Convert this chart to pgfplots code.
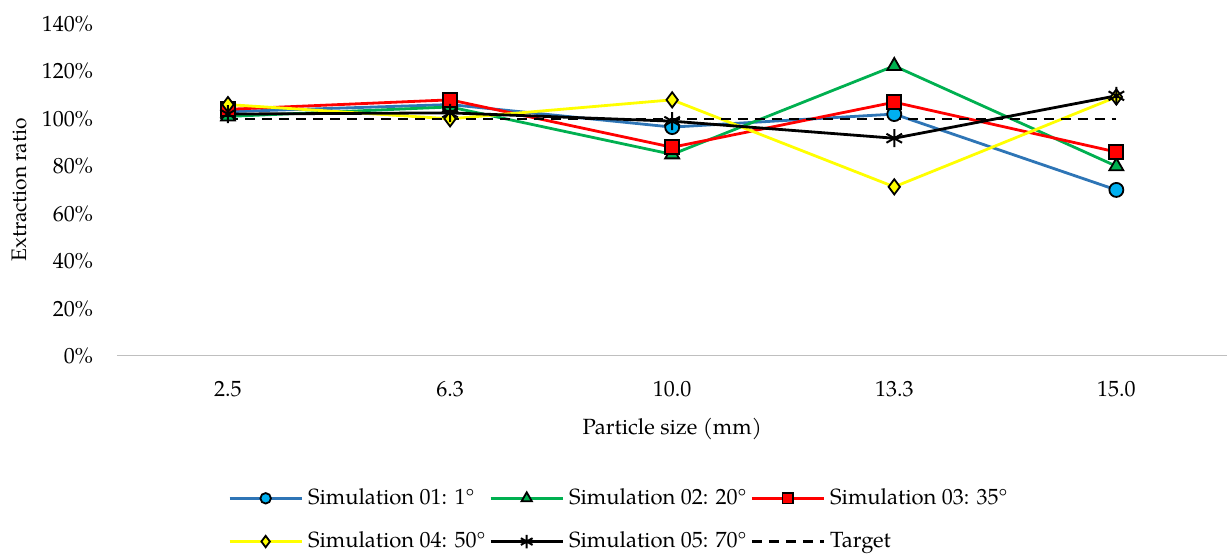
\documentclass[border=0pt]{standalone}
\usepackage{fontspec}
\setmainfont{TeX Gyre Pagella}
\usepackage{pgfplots}
\pgfplotsset{compat=1.18}
\definecolor{cblue}{RGB}{46,117,182}
\definecolor{cblueF}{RGB}{0,176,240}
\definecolor{cgreen}{RGB}{0,176,80}
\definecolor{cred}{RGB}{255,0,0}
\definecolor{cyellow}{RGB}{255,255,0}
\begin{document}
\fontsize{11}{13}\selectfont
\begin{tikzpicture}
\begin{axis}[
  name=ax,
  scale only axis,
  width=555.5pt, height=166pt,
  xmin=-0.5, xmax=4.5,
  ymin=0, ymax=1.4,
  xtick={0,1,2,3,4},
  xticklabels={2.5,6.3,10.0,13.3,15.0},
  ytick={0,0.2,0.4,0.6,0.8,1.0,1.2,1.4},
  yticklabels={0\%,20\%,40\%,60\%,80\%,100\%,120\%,140\%},
  axis x line*=bottom, axis y line*=left,
  y axis line style={draw=none},
  x axis line style={draw=black!25, line width=0.6pt},
  major tick length=0pt,
  tick label style={font=\fontsize{11}{13}\selectfont},
  yticklabel style={xshift=-8pt},
  xticklabel style={yshift=-9pt},
  xlabel={Particle size (mm)},
  ylabel={Extraction ratio},
  xlabel style={font=\fontsize{11}{13}\selectfont, yshift=-3pt},
  ylabel style={font=\fontsize{10.5}{12}\selectfont, yshift=0pt},
  clip=false,
  legend columns=3,
  legend cell align=left,
  legend style={draw=none, at={(0.0945,-0.375)}, anchor=north west,
     font=\fontsize{11}{13}\selectfont, row sep=8pt,
     /tikz/every even column/.append style={column sep=0pt},
     /tikz/every odd column/.append style={column sep=0.5pt}},
  legend image code/.code={\draw[mark repeat=2,mark phase=2,every mark/.append style={scale=0.75}]
     plot coordinates {(0pt,0pt)(18pt,0pt)(36pt,0pt)};},
]
\addplot[color=cblue, line width=1.4pt, mark=*, mark size=3.5pt, mark options={fill=cblueF, draw=black, line width=0.9pt}]
  coordinates {(0,1.03)(1,1.06)(2,0.965)(3,1.02)(4,0.70)};
\addlegendentry{Simulation 01: 1°}
\addplot[color=cgreen, line width=1.4pt, mark=triangle*, mark size=4pt, mark options={fill=cgreen, draw=black, line width=0.9pt}]
  coordinates {(0,1.01)(1,1.05)(2,0.85)(3,1.223)(4,0.80)};
\addlegendentry{Simulation 02: 20°}
\addplot[color=cred, line width=1.4pt, mark=square*, mark size=3.5pt, mark options={fill=cred, draw=black, line width=0.9pt}]
  coordinates {(0,1.04)(1,1.08)(2,0.88)(3,1.07)(4,0.86)};
\addlegendentry{Simulation 03: 35°}
\addplot[color=cyellow, line width=1.4pt, mark=diamond*, mark size=3.8pt, mark options={fill=cyellow, draw=black, line width=0.9pt}]
  coordinates {(0,1.06)(1,1.00)(2,1.08)(3,0.713)(4,1.092)};
\addlegendentry{Simulation 04: 50°}
\addplot[color=black, line width=1.4pt, mark=asterisk, mark size=4.5pt, mark options={draw=black, line width=1pt}]
  coordinates {(0,1.02)(1,1.025)(2,0.99)(3,0.918)(4,1.097)};
\addlegendentry{Simulation 05: 70°}
\addplot[color=black, dash pattern=on 5pt off 3.5pt, line width=1.3pt]
  coordinates {(0,1.0)(1,1.0)(2,1.0)(3,1.0)(4,1.0)};
\addlegendentry{Target}
\end{axis}
\path (ax.north west) ++(-58.5pt,12pt) coordinate (bbA);
\path (ax.south west) ++(-58.5pt,-98.5pt) coordinate (bbB);
\path (bbA) -- (bbB);
\end{tikzpicture}
\end{document}
